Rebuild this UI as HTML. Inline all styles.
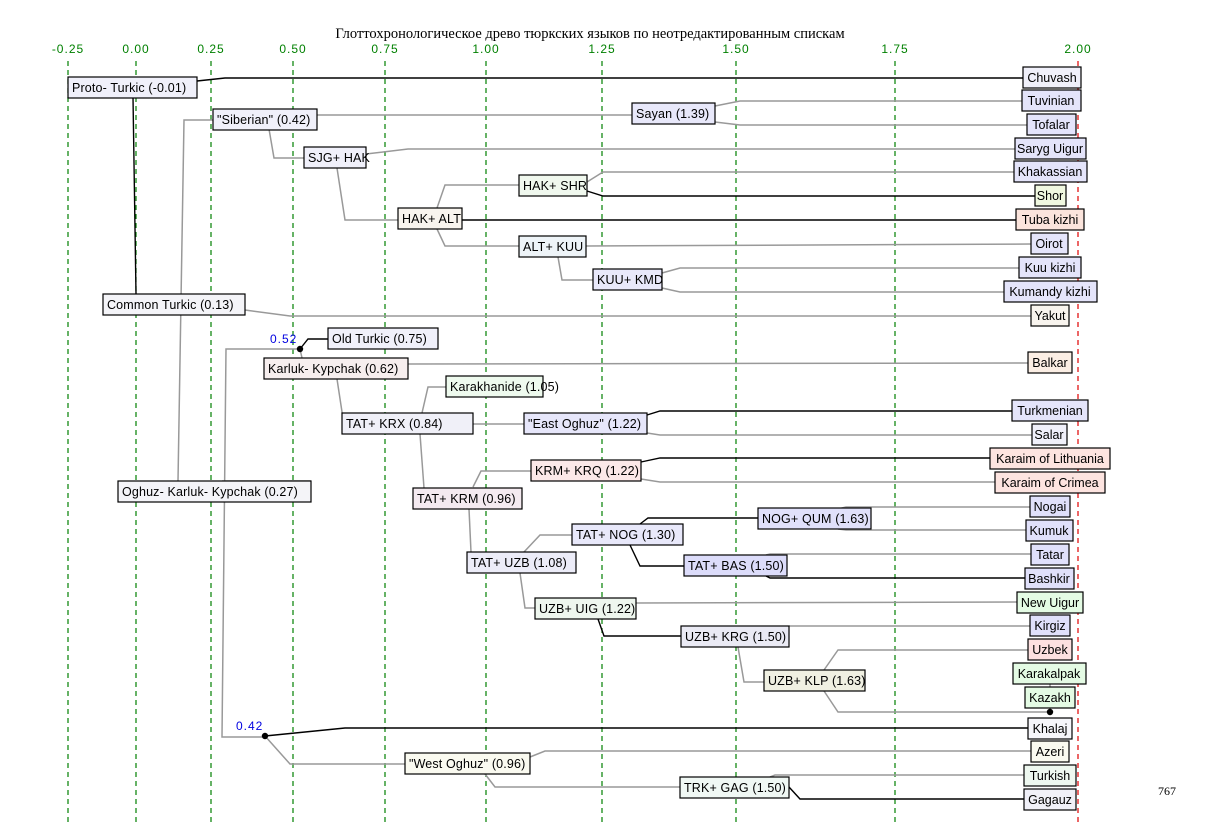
<!DOCTYPE html>
<html><head><meta charset="utf-8"><style>
body{margin:0;background:#fff;}
svg{display:block;font-family:"Liberation Sans",sans-serif;}
.g{stroke:#008000;stroke-width:1.2;stroke-dasharray:5,4;}
.l{fill:none;stroke:#999;stroke-width:1.5;}
.k{fill:none;stroke:#000;stroke-width:1.4;}
.b{stroke:#000;stroke-width:1.2;}
text{font-size:12.5px;fill:#000;letter-spacing:0.15px;}
.ax{fill:#008000;font-size:12px;letter-spacing:1px;}
</style></head><body>
<svg width="1213" height="822" viewBox="0 0 1213 822">
<rect width="1213" height="822" fill="#fff"/>
<text x="590" y="38" text-anchor="middle" style="font-family:'Liberation Serif',serif;font-size:14.5px;letter-spacing:0">Глоттохронологическое древо тюркских языков по неотредактированным спискам</text>
<g class="ax" text-anchor="middle">
<text x="68" y="53" class="ax">-0.25</text><text x="136" y="53" class="ax">0.00</text><text x="211" y="53" class="ax">0.25</text><text x="293" y="53" class="ax">0.50</text><text x="385" y="53" class="ax">0.75</text><text x="486" y="53" class="ax">1.00</text><text x="602" y="53" class="ax">1.25</text><text x="736" y="53" class="ax">1.50</text><text x="895" y="53" class="ax">1.75</text><text x="1078" y="53" class="ax">2.00</text>
</g>
<g class="g"><line x1="68" y1="61" x2="68" y2="822"/><line x1="136" y1="61" x2="136" y2="822"/><line x1="211" y1="61" x2="211" y2="822"/><line x1="293" y1="61" x2="293" y2="822"/><line x1="385" y1="61" x2="385" y2="822"/><line x1="486" y1="61" x2="486" y2="822"/><line x1="602" y1="61" x2="602" y2="822"/><line x1="736" y1="61" x2="736" y2="822"/><line x1="895" y1="61" x2="895" y2="822"/></g>
<line x1="1078" y1="61" x2="1078" y2="822" stroke="#e00000" stroke-width="1.2" stroke-dasharray="5,4"/>

<polyline class="k" points="197,81 225,78 1023,78"/>
<polyline class="k" points="133,97 136,294"/>
<polyline class="l" points="245,310 290,316 1031,316"/>
<polyline class="l" points="213,120 184,120 178,481"/>
<polyline class="l" points="317,115 632,115"/>
<polyline class="l" points="715,106 740,101 1022,101"/>
<polyline class="l" points="715,122 740,125 1027,125"/>
<polyline class="l" points="269,129 274,158 304,158"/>
<polyline class="l" points="366,154 408,149 1015,149"/>
<polyline class="l" points="337,168 345,220 398,220"/>
<polyline class="l" points="437,208 445,185 519,185"/>
<polyline class="l" points="587,182 603,172 1014,172"/>
<polyline class="k" points="587,191 603,196 1035,196"/>
<polyline class="k" points="462,220 1016,220"/>
<polyline class="l" points="437,229 445,246 519,246"/>
<polyline class="l" points="586,246 1031,244"/>
<polyline class="l" points="558,257 562,280 593,280"/>
<polyline class="l" points="662,273 680,268 1019,268"/>
<polyline class="l" points="662,288 680,292 1004,292"/>
<polyline class="l" points="300,349 226,349 222,737 265,737"/>
<polyline class="l" points="311,481 222,481"/>
<polyline class="k" points="300,349 308,339 328,339"/>
<polyline class="l" points="300,349 302,358"/>
<polyline class="l" points="408,364 1028,363"/>
<polyline class="l" points="337,379 344,425 342,425"/>
<polyline class="l" points="422,413 428,387 446,387"/>
<polyline class="l" points="473,424 524,424"/>
<polyline class="k" points="647,415 660,411 1012,411"/>
<polyline class="l" points="647,433 660,435 1032,435"/>
<polyline class="l" points="420,434 424,488"/>
<polyline class="l" points="473,487 481,471 531,471"/>
<polyline class="k" points="641,462 660,458 990,458"/>
<polyline class="l" points="641,479 660,482 995,482"/>
<polyline class="l" points="469,509 471,552"/>
<polyline class="l" points="524,552 540,535 572,535"/>
<polyline class="k" points="640,524 648,518 758,518"/>
<polyline class="l" points="838,509 846,507 1030,507"/>
<polyline class="l" points="838,529 846,530 1026,530"/>
<polyline class="k" points="630,545 640,566 684,566"/>
<polyline class="l" points="766,555 770,554 1031,554"/>
<polyline class="k" points="766,576 770,578 1025,578"/>
<polyline class="l" points="520,573 525,608 535,608"/>
<polyline class="l" points="636,603 1017,602"/>
<polyline class="k" points="598,619 604,636 681,636"/>
<polyline class="l" points="789,626 1030,626"/>
<polyline class="l" points="738,647 744,682 764,682"/>
<polyline class="l" points="824,670 838,650 1028,650"/>
<polyline class="l" points="824,691 838,712 1050,712"/>
<line class="l" x1="1050" y1="684" x2="1050" y2="712"/>
<polyline class="k" points="265,736 345,728 1028,728"/>
<polyline class="l" points="265,736 290,764 405,764"/>
<polyline class="l" points="530,757 545,751 1031,751"/>
<polyline class="l" points="485,774 495,787 680,787"/>
<polyline class="l" points="770,777 775,775 1024,775"/>
<polyline class="k" points="789,787 800,799 1024,799"/>
<circle cx="300" cy="349" r="3.2" fill="#000"/>
<circle cx="265" cy="736" r="3.2" fill="#000"/>
<circle cx="1050" cy="712" r="3.2" fill="#000"/>
<text x="270" y="343" style="fill:#0000e0;font-size:12px;letter-spacing:1px">0.52</text>
<text x="236" y="730" style="fill:#0000e0;font-size:12px;letter-spacing:1px">0.42</text>

<g class="b">
<rect x="68" y="77" width="129" height="21" fill="#f0f0fa"/>
<rect x="213" y="109" width="104" height="21" fill="#f0f0fa"/>
<rect x="632" y="103" width="83" height="21" fill="#e8e8fa"/>
<rect x="304" y="147" width="62" height="21" fill="#f0f0fa"/>
<rect x="519" y="175" width="68" height="21" fill="#f0f8ee"/>
<rect x="398" y="208" width="64" height="21" fill="#f8f4ee"/>
<rect x="519" y="236" width="67" height="21" fill="#eef4f8"/>
<rect x="593" y="269" width="69" height="21" fill="#e8e8fa"/>
<rect x="103" y="294" width="142" height="21" fill="#f4f4f8"/>
<rect x="328" y="328" width="110" height="21" fill="#f0f0fa"/>
<rect x="264" y="358" width="144" height="21" fill="#f6eeee"/>
<rect x="446" y="376" width="97" height="21" fill="#eefaee"/>
<rect x="342" y="413" width="131" height="21" fill="#f0f0f8"/>
<rect x="524" y="413" width="123" height="21" fill="#e6e6fa"/>
<rect x="531" y="460" width="110" height="21" fill="#fbe8e8"/>
<rect x="413" y="488" width="109" height="21" fill="#f4eaf0"/>
<rect x="118" y="481" width="193" height="21" fill="#f4f4f8"/>
<rect x="758" y="508" width="113" height="21" fill="#e0e0fa"/>
<rect x="572" y="524" width="111" height="21" fill="#e8e8fa"/>
<rect x="684" y="555" width="103" height="21" fill="#dcdcfa"/>
<rect x="467" y="552" width="109" height="21" fill="#ececf8"/>
<rect x="535" y="598" width="101" height="21" fill="#eef6ee"/>
<rect x="681" y="626" width="108" height="21" fill="#eaeaf4"/>
<rect x="764" y="670" width="101" height="21" fill="#f0f0e2"/>
<rect x="405" y="753" width="125" height="21" fill="#fafaf0"/>
<rect x="680" y="777" width="109" height="21" fill="#f0f8f4"/>
</g>
<g>
<text x="72" y="92">Proto- Turkic (-0.01)</text>
<text x="217" y="124">"Siberian" (0.42)</text>
<text x="636" y="118">Sayan (1.39)</text>
<text x="308" y="162">SJG+ HAK</text>
<text x="523" y="190">HAK+ SHR</text>
<text x="402" y="223">HAK+ ALT</text>
<text x="523" y="251">ALT+ KUU</text>
<text x="597" y="284">KUU+ KMD</text>
<text x="107" y="309">Common Turkic (0.13)</text>
<text x="332" y="343">Old Turkic (0.75)</text>
<text x="268" y="373">Karluk- Kypchak (0.62)</text>
<text x="450" y="391">Karakhanide (1.05)</text>
<text x="346" y="428">TAT+ KRX (0.84)</text>
<text x="528" y="428">"East Oghuz" (1.22)</text>
<text x="535" y="475">KRM+ KRQ (1.22)</text>
<text x="417" y="503">TAT+ KRM (0.96)</text>
<text x="122" y="496">Oghuz- Karluk- Kypchak (0.27)</text>
<text x="762" y="523">NOG+ QUM (1.63)</text>
<text x="576" y="539">TAT+ NOG (1.30)</text>
<text x="688" y="570">TAT+ BAS (1.50)</text>
<text x="471" y="567">TAT+ UZB (1.08)</text>
<text x="539" y="613">UZB+ UIG (1.22)</text>
<text x="685" y="641">UZB+ KRG (1.50)</text>
<text x="768" y="685">UZB+ KLP (1.63)</text>
<text x="409" y="768">"West Oghuz" (0.96)</text>
<text x="684" y="792">TRK+ GAG (1.50)</text>
</g>

<g class="b">
<rect x="1023" y="67" width="58" height="21" fill="#f0f0fa"/>
<rect x="1022" y="90" width="59" height="21" fill="#e4e4fa"/>
<rect x="1027" y="114" width="49" height="21" fill="#e4e4fa"/>
<rect x="1015" y="138" width="71" height="21" fill="#e4e4fa"/>
<rect x="1014" y="161" width="73" height="21" fill="#e4e4fa"/>
<rect x="1035" y="185" width="31" height="21" fill="#f0f8e0"/>
<rect x="1016" y="209" width="68" height="21" fill="#fbe4dc"/>
<rect x="1031" y="233" width="37" height="21" fill="#e4e4fa"/>
<rect x="1019" y="257" width="62" height="21" fill="#e4e4fa"/>
<rect x="1004" y="281" width="93" height="21" fill="#e4e4fa"/>
<rect x="1031" y="305" width="38" height="21" fill="#f8f4ee"/>
<rect x="1028" y="352" width="44" height="21" fill="#fbeee4"/>
<rect x="1012" y="400" width="76" height="21" fill="#e4e4fa"/>
<rect x="1032" y="424" width="35" height="21" fill="#f0f0fa"/>
<rect x="990" y="448" width="120" height="21" fill="#fde4e0"/>
<rect x="995" y="472" width="110" height="21" fill="#fde4e0"/>
<rect x="1030" y="496" width="40" height="21" fill="#e0e0fa"/>
<rect x="1026" y="520" width="47" height="21" fill="#e0e0fa"/>
<rect x="1031" y="544" width="38" height="21" fill="#e0e0fa"/>
<rect x="1025" y="568" width="49" height="21" fill="#e0e0fa"/>
<rect x="1017" y="592" width="66" height="21" fill="#e4fbe4"/>
<rect x="1030" y="615" width="40" height="21" fill="#e0e0fa"/>
<rect x="1028" y="639" width="44" height="21" fill="#fde0e0"/>
<rect x="1013" y="663" width="73" height="21" fill="#e4fbe4"/>
<rect x="1025" y="687" width="50" height="21" fill="#e4fbe4"/>
<rect x="1028" y="718" width="44" height="21" fill="#f6f6fa"/>
<rect x="1031" y="741" width="38" height="21" fill="#fafaf0"/>
<rect x="1024" y="765" width="52" height="21" fill="#eef8f0"/>
<rect x="1024" y="789" width="52" height="21" fill="#f0f0f8"/>
</g>
<g text-anchor="middle" style="letter-spacing:0">
<text x="1052" y="82" style="letter-spacing:0">Chuvash</text>
<text x="1051" y="105" style="letter-spacing:0">Tuvinian</text>
<text x="1051" y="129" style="letter-spacing:0">Tofalar</text>
<text x="1050" y="153" style="letter-spacing:0">Saryg Uigur</text>
<text x="1050" y="176" style="letter-spacing:0">Khakassian</text>
<text x="1050" y="200" style="letter-spacing:0">Shor</text>
<text x="1050" y="224" style="letter-spacing:0">Tuba kizhi</text>
<text x="1049" y="248" style="letter-spacing:0">Oirot</text>
<text x="1050" y="272" style="letter-spacing:0">Kuu kizhi</text>
<text x="1050" y="296" style="letter-spacing:0">Kumandy kizhi</text>
<text x="1050" y="320" style="letter-spacing:0">Yakut</text>
<text x="1050" y="367" style="letter-spacing:0">Balkar</text>
<text x="1050" y="415" style="letter-spacing:0">Turkmenian</text>
<text x="1049" y="439" style="letter-spacing:0">Salar</text>
<text x="1050" y="463" style="letter-spacing:0">Karaim of Lithuania</text>
<text x="1050" y="487" style="letter-spacing:0">Karaim of Crimea</text>
<text x="1050" y="511" style="letter-spacing:0">Nogai</text>
<text x="1049" y="535" style="letter-spacing:0">Kumuk</text>
<text x="1050" y="559" style="letter-spacing:0">Tatar</text>
<text x="1049" y="583" style="letter-spacing:0">Bashkir</text>
<text x="1050" y="607" style="letter-spacing:0">New Uigur</text>
<text x="1050" y="630" style="letter-spacing:0">Kirgiz</text>
<text x="1050" y="654" style="letter-spacing:0">Uzbek</text>
<text x="1049" y="678" style="letter-spacing:0">Karakalpak</text>
<text x="1050" y="702" style="letter-spacing:0">Kazakh</text>
<text x="1050" y="733" style="letter-spacing:0">Khalaj</text>
<text x="1050" y="756" style="letter-spacing:0">Azeri</text>
<text x="1050" y="780" style="letter-spacing:0">Turkish</text>
<text x="1050" y="804" style="letter-spacing:0">Gagauz</text>
</g>
<text x="1158" y="795" style="font-family:'Liberation Serif',serif;font-size:12px;letter-spacing:0">767</text>
</svg>
</body></html>
